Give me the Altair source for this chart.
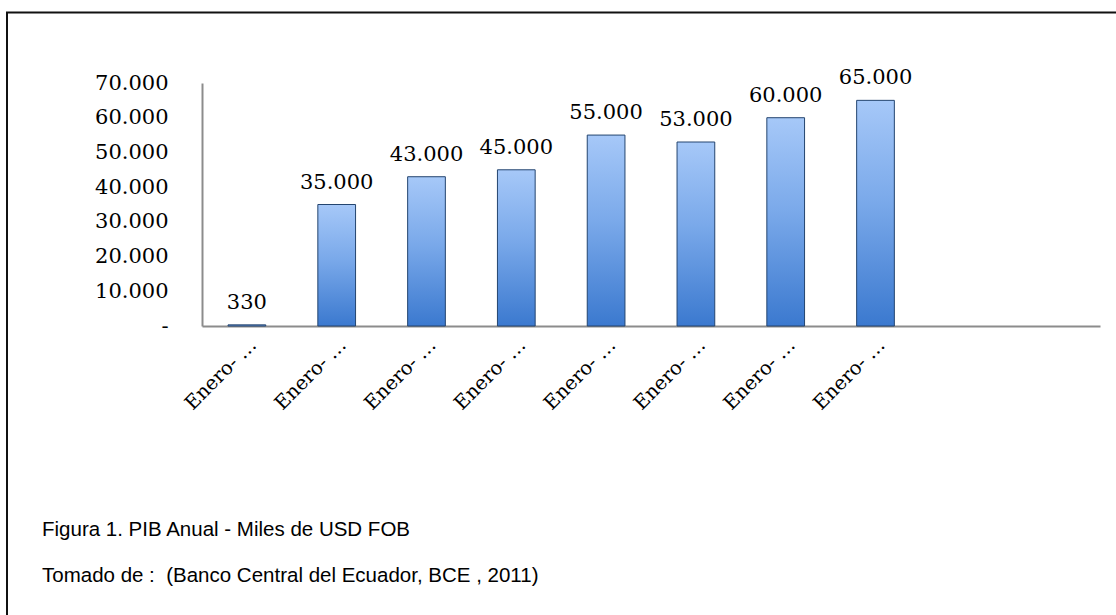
import json
import altair as alt
import pandas as pd

# ---- data ----
period_keys = [f"periodo_{i}" for i in range(1, 11)]
tick_labels = ["Enero- …"] * 8 + ["", ""]
values = [330, 35000, 43000, 45000, 55000, 53000, 60000, 65000]
y_ticks = [0, 10000, 20000, 30000, 40000, 50000, 60000, 70000]
caption_title = "Figura 1. PIB Anual - Miles de USD FOB"
caption_source = "Tomado de : \u00a0(Banco Central del Ecuador, BCE , 2011)"

df = pd.DataFrame({"periodo": period_keys[: len(values)], "valor": values})

SERIF = "DejaVu Serif"
SANS = "Liberation Sans"
W, H = 898, 243
LEFT, TOP = 202, 83

label_map = json.dumps(dict(zip(period_keys, tick_labels)), ensure_ascii=False)

x_enc = alt.X(
    "periodo:N",
    sort=period_keys,
    scale=alt.Scale(domain=period_keys, paddingInner=0.58, paddingOuter=0.29),
    axis=alt.Axis(
        title=None,
        labelAngle=-45,
        labelExpr=f"{label_map}[datum.value]",
        labelFont=SERIF,
        labelFontSize=19.5,
        labelColor="black",
        labelPadding=9,
        labelOverlap=False,
        ticks=False,
        domainColor="#8c8c8c",
        domainWidth=2,
        grid=False,
    ),
)
y_enc = alt.Y(
    "valor:Q",
    scale=alt.Scale(domain=[0, 70000], nice=False),
    axis=alt.Axis(
        title=None,
        values=y_ticks,
        labelExpr="datum.value == 0 ? '-' : replace(format(datum.value, ','), ',', '.')",
        labelFont=SERIF,
        labelFontSize=21,
        labelColor="black",
        labelPadding=34,
        labelOverlap=False,
        labelBound=False,
        ticks=False,
        domainColor="#8c8c8c",
        domainWidth=2,
        grid=False,
    ),
)

gradient = alt.Gradient(
    gradient="linear",
    stops=[
        alt.GradientStop(color="#a6c8f8", offset=0),
        alt.GradientStop(color="#7aa9ea", offset=0.45),
        alt.GradientStop(color="#3b79cf", offset=1),
    ],
    x1=0, x2=0, y1=0, y2=1,
)

base = alt.Chart(df).transform_calculate(
    etiqueta="datum.valor >= 1000 ? replace(format(datum.valor, ','), ',', '.') : format(datum.valor, 'd')"
).encode(x=x_enc, y=y_enc)

bars = base.mark_bar(color=gradient, stroke="#24456f", strokeWidth=1)
labels = base.mark_text(
    font=SERIF, fontSize=21, color="black", baseline="bottom", dy=-12
).encode(text="etiqueta:N")

one = pd.DataFrame({"k": [0]})
frame_top = alt.Chart(one).mark_rule(color="#111111", strokeWidth=2).encode(
    x=alt.value(-196), x2=alt.value(1116 - LEFT), y=alt.value(12.5 - TOP)
)
frame_left = alt.Chart(one).mark_rule(color="#111111", strokeWidth=2).encode(
    x=alt.value(7 - LEFT), y=alt.value(12 - TOP), y2=alt.value(615 - TOP)
)
cap1 = alt.Chart(one).mark_text(
    font=SANS, fontSize=20.5, color="black", align="left", baseline="middle"
).encode(x=alt.value(42 - LEFT), y=alt.value(530 - TOP), text=alt.value(caption_title))
cap2 = alt.Chart(one).mark_text(
    font=SANS, fontSize=20.5, color="black", align="left", baseline="middle"
).encode(x=alt.value(42 - LEFT), y=alt.value(576 - TOP), text=alt.value(caption_source))

chart = alt.layer(bars, labels, frame_top, frame_left, cap1, cap2).properties(
    width=W,
    height=H,
    autosize=alt.AutoSizeParams(type="none"),
    padding={"left": LEFT, "top": TOP, "right": 1116 - LEFT - W, "bottom": 615 - TOP - H},
    background="white",
).configure_view(stroke=None)

chart.save("out.html", embed_options={"renderer": "svg", "actions": False})
